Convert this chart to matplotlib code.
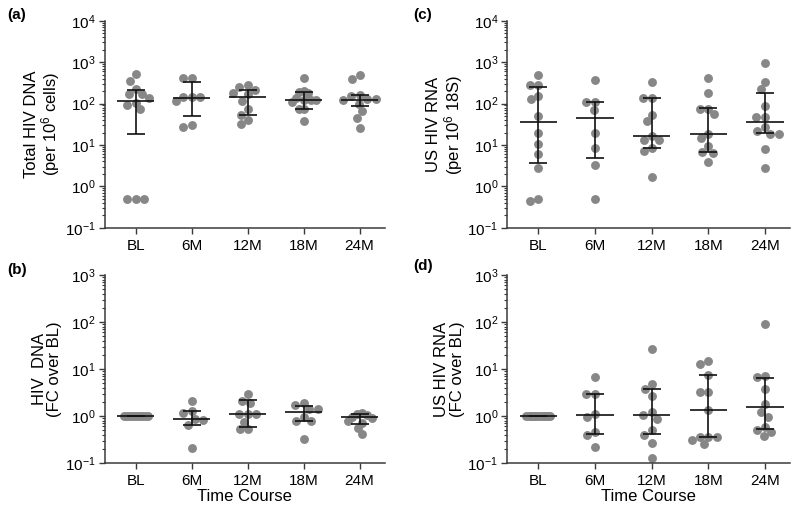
import numpy as np
import matplotlib
matplotlib.use('Agg')
import matplotlib.pyplot as plt
from matplotlib.ticker import LogLocator, NullFormatter

# --- Fonts ---
plt.rcParams['font.family'] = ['Liberation Sans', 'DejaVu Sans']
plt.rcParams['mathtext.fontset'] = 'custom'
plt.rcParams['mathtext.rm'] = 'Liberation Sans'
plt.rcParams['mathtext.it'] = 'Liberation Sans:italic'
plt.rcParams['mathtext.bf'] = 'Liberation Sans:bold'
plt.rcParams['axes.unicode_minus'] = False

# --- Data ---
TIMEPOINTS = ['BL', '6M', '12M', '18M', '24M']

# (a) Total HIV DNA per 10^6 cells
a_bl = [515, 355, 229, 174, 166, 133, 106, 92, 72, 0.5, 0.5, 0.5]
a_6m = [420, 420, 145, 145, 145, 116, 30, 27]
a_12m = [274, 251, 214, 178, 166, 116, 72, 54, 41, 32]
a_18m = [420, 200, 186, 178, 139, 120, 120, 120, 111, 72, 72, 37]
a_24m = [500, 400, 160, 150, 128, 128, 125, 100, 65, 45, 25]
a_median = [116, 140, 145, 122, 125]
a_low = [18.4, 51, 54, 72, 85]
a_high = [209, 340, 214, 186, 160]

# (b) HIV DNA, fold change over BL
b_bl = [1.0] * 10
b_6m = [2.05, 1.25, 1.15, 0.85, 0.82, 0.65, 0.21]
b_12m = [2.9, 2.1, 1.9, 1.1, 1.1, 1.1, 0.75, 0.52, 0.52]
b_18m = [1.9, 1.7, 1.4, 1.4, 0.95, 0.8, 0.8, 0.32]
b_24m = [1.15, 1.1, 1.05, 0.95, 0.9, 0.8, 0.7, 0.55, 0.42]
b_median = [1.0, 0.845, 1.11, 1.23, 0.95]
b_low = [1.0, 0.63, 0.57, 0.79, 0.68]
b_high = [1.0, 1.26, 2.16, 1.63, 1.12]

# (c) US HIV RNA per 10^6 18S
c_bl = [484, 284, 284, 155, 128, 49, 20, 10.6, 5.9, 2.8, 0.45, 0.5]
c_6m = [380, 110, 110, 69, 20, 8.6, 3.35, 0.5]
c_12m = [340, 133, 133, 54, 37, 16.2, 13.5, 13.5, 8.6, 7.2, 1.67]
c_18m = [417, 178, 76, 76, 55, 18.3, 14.4, 9.3, 6.3, 6.7, 3.8]
c_24m = [950, 340, 223, 85, 47, 47, 26.5, 22, 18.3, 18.3, 7.8, 2.8]
c_median = [35, 45, 16.2, 18.3, 36]
c_low = [3.6, 4.75, 8.6, 6.7, 19]
c_high = [251, 110, 133, 78, 185]

# (d) US HIV RNA, fold change over BL
d_bl = [1.0] * 12
d_6m = [6.6, 2.98, 2.98, 1.08, 0.96, 0.46, 0.40, 0.22]
d_12m = [26.3, 4.7, 3.7, 2.66, 1.19, 1.06, 0.87, 0.50, 0.40, 0.27, 0.13]
d_18m = [14.5, 12.6, 7.5, 3.2, 3.2, 1.31, 0.36, 0.36, 0.36, 0.31, 0.25]
d_24m = [91, 7.2, 6.6, 3.7, 1.8, 1.23, 0.93, 0.59, 0.5, 0.45, 0.38]
d_median = [1.0, 1.05, 1.06, 1.31, 1.54]
d_low = [1.0, 0.41, 0.41, 0.36, 0.53]
d_high = [1.0, 3.0, 3.7, 7.5, 6.4]

# --- Style ---
DOT_COLOR = '#878787'
LINE_COLOR = '#111111'
AXIS_COLOR = '#3a3a3a'
DOT_PX = 8.5        # dot diameter in pixels, also swarm spacing
FS = 11


def swarm_offsets(ax, xc, vals):
    """Simple beeswarm: returns x positions (data units) avoiding overlaps."""
    vals = np.asarray(vals, dtype=float)
    pts = ax.transData.transform(np.column_stack([np.full(len(vals), xc), vals]))
    ys = pts[:, 1]
    px_per_unit = ax.transData.transform((1, 1))[0] - ax.transData.transform((0, 1))[0]
    d = DOT_PX
    offs = np.zeros(len(vals))
    placed = []
    for i in np.argsort(-vals, kind='stable'):
        y = ys[i]
        cands = [0.0]
        for px, py in placed:
            dy = abs(py - y)
            if dy < d:
                dx = np.sqrt(d * d - dy * dy)
                cands += [px - dx, px + dx]
        cands.sort(key=lambda c: (abs(c), c))
        for c in cands:
            if all((c - px) ** 2 + (y - py) ** 2 >= d * d - 1e-6 for px, py in placed):
                offs[i] = c
                placed.append((c, y))
                break
    # GraphPad squeezes very crowded rows (e.g. all-1.0 baseline)
    if np.abs(offs).max() > 22:
        offs -= (offs.max() + offs.min()) / 2
        offs *= 12 / np.abs(offs).max()
    return xc + offs / px_per_unit


def draw_panel(ax, groups, med, low, high, ylim, ylabel, xlabel=None):
    x = np.arange(len(TIMEPOINTS))
    ax.set_yscale('log')
    ax.set_ylim(*ylim)
    ax.set_xlim(-0.55, 4.45)

    for xi, vals in zip(x, groups):
        xs = swarm_offsets(ax, xi, vals)
        ax.plot(xs, vals, 'o', color=DOT_COLOR, markersize=6.4,
                markeredgewidth=0, zorder=2)

    # median with interquartile range
    ax.hlines(med, x - 0.33, x + 0.33, color=LINE_COLOR, lw=1.2, zorder=3)
    ax.vlines(x, low, high, color=LINE_COLOR, lw=1.2, zorder=3)
    ax.hlines(low, x - 0.16, x + 0.16, color=LINE_COLOR, lw=1.2, zorder=3)
    ax.hlines(high, x - 0.16, x + 0.16, color=LINE_COLOR, lw=1.2, zorder=3)

    ax.set_xticks(x)
    ax.set_xticklabels(TIMEPOINTS, fontsize=FS)
    ax.yaxis.set_major_locator(LogLocator(base=10, numticks=10))
    ax.yaxis.set_minor_locator(LogLocator(base=10, subs=np.arange(2, 10), numticks=10))
    ax.yaxis.set_minor_formatter(NullFormatter())
    ax.tick_params(axis='y', which='major', length=4.5, width=1, color=AXIS_COLOR,
                   labelsize=FS, pad=2)
    ax.tick_params(axis='y', which='minor', length=2.5, width=0.8, color=AXIS_COLOR)
    ax.tick_params(axis='x', length=4, width=1, color=AXIS_COLOR, labelsize=FS, pad=4)

    for s in ['top', 'right']:
        ax.spines[s].set_visible(False)
    for s in ['left', 'bottom']:
        ax.spines[s].set_color(AXIS_COLOR)
        ax.spines[s].set_linewidth(1.1)

    ax.set_ylabel(ylabel, fontsize=FS + 1, labelpad=2, linespacing=1.05)
    if xlabel:
        ax.set_xlabel(xlabel, fontsize=FS + 1, labelpad=1)


fig = plt.figure(figsize=(8.0, 5.13), dpi=100)

ax_a = fig.add_axes([0.131, 0.556, 0.35, 0.4035])
ax_c = fig.add_axes([0.634, 0.556, 0.354, 0.4035])
ax_b = fig.add_axes([0.131, 0.0975, 0.35, 0.3665])
ax_d = fig.add_axes([0.634, 0.0975, 0.354, 0.3665])

draw_panel(ax_a, [a_bl, a_6m, a_12m, a_18m, a_24m], a_median, a_low, a_high,
           (0.1, 1e4), 'Total HIV DNA\n(per 10$^{6}$ cells)')
draw_panel(ax_c, [c_bl, c_6m, c_12m, c_18m, c_24m], c_median, c_low, c_high,
           (0.1, 1e4), 'US HIV RNA\n(per 10$^{6}$ 18S)')
draw_panel(ax_b, [b_bl, b_6m, b_12m, b_18m, b_24m], b_median, b_low, b_high,
           (0.1, 1e3), 'HIV  DNA\n(FC over BL)', xlabel='Time Course')
draw_panel(ax_d, [d_bl, d_6m, d_12m, d_18m, d_24m], d_median, d_low, d_high,
           (0.1, 1e3), 'US HIV RNA\n(FC over BL)', xlabel='Time Course')

# panel letters
for letter, fx, fy in [('(a)', 0.009, 0.970), ('(c)', 0.516, 0.970),
                       ('(b)', 0.009, 0.474), ('(d)', 0.516, 0.481)]:
    fig.text(fx, fy, letter, fontsize=FS, fontweight='bold', ha='left', va='center')

fig.savefig('out.png', dpi=100)
